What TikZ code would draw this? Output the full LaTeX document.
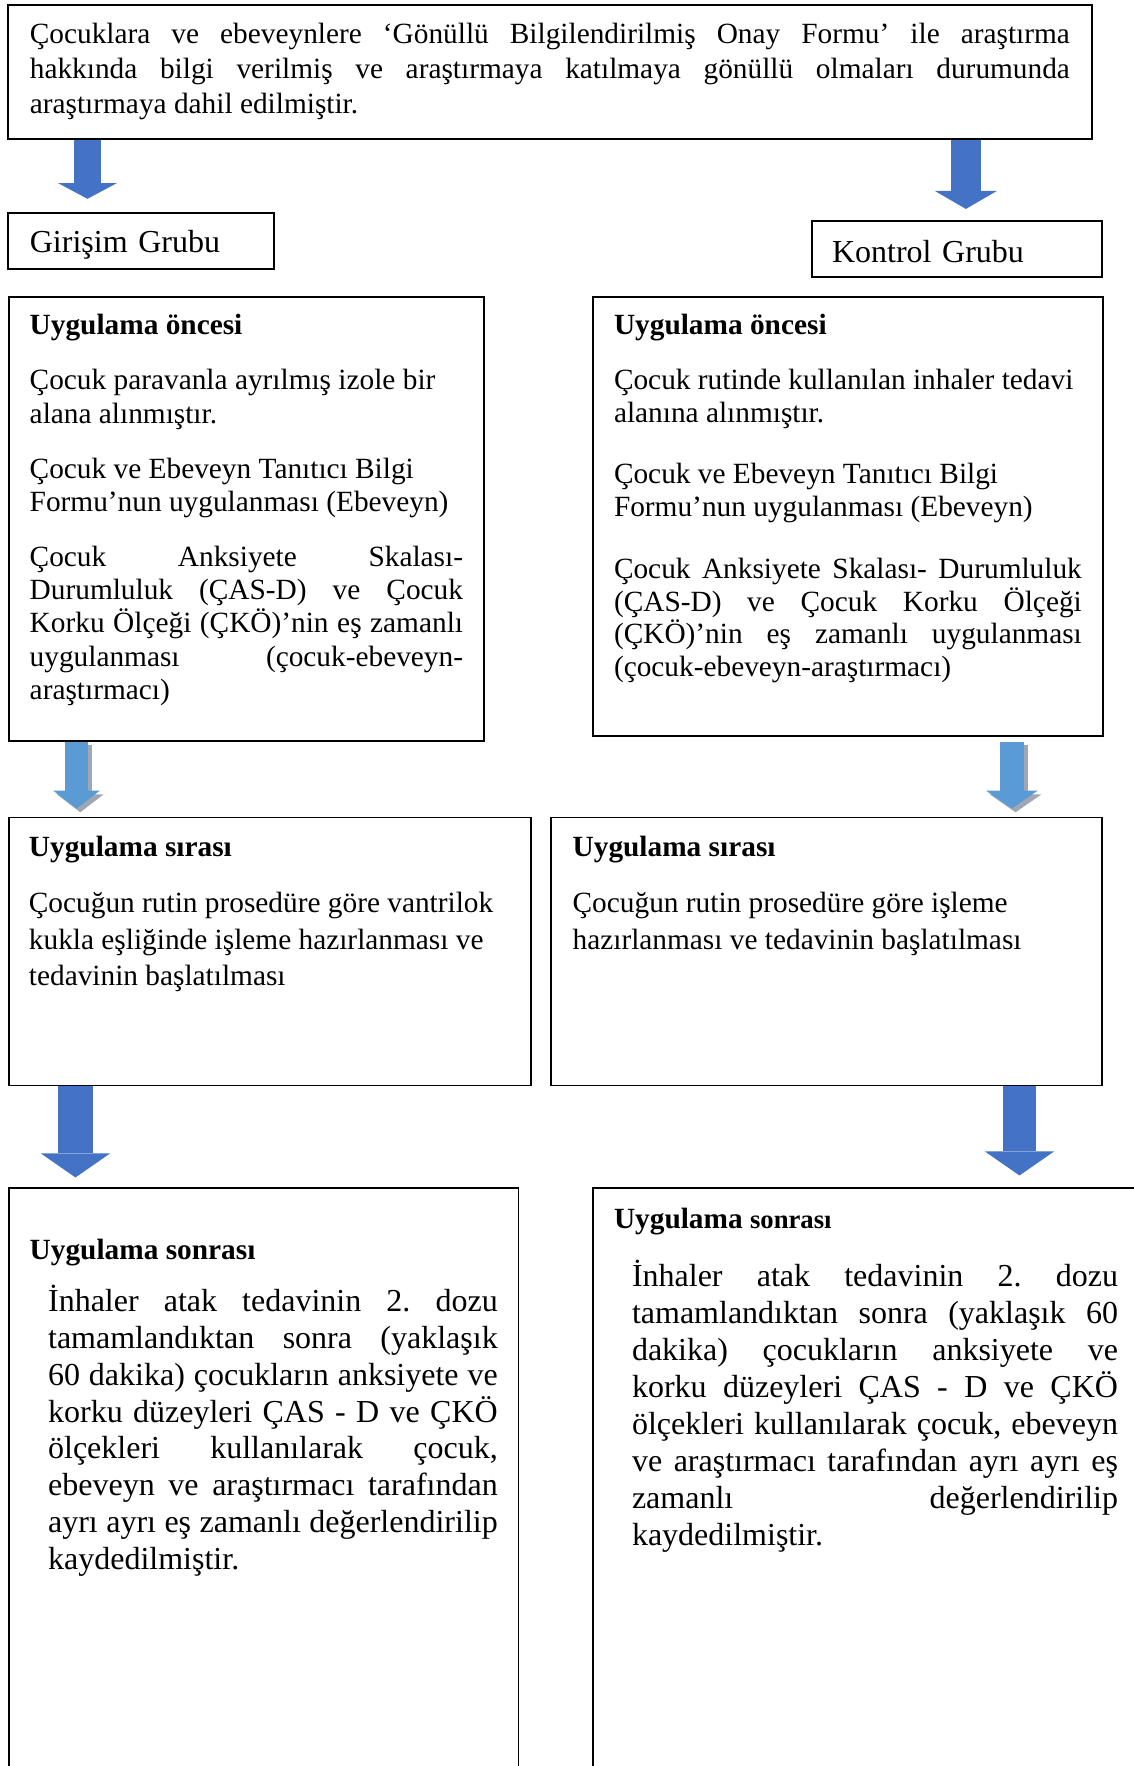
\documentclass[tikz,border=0pt]{standalone}
\usepackage{fontspec}
\setmainfont{Liberation Serif}
\usepackage{tikz}
\usetikzlibrary{arrows.meta, positioning}
\definecolor{arrblue}{RGB}{68,114,196}
\definecolor{arrlight}{RGB}{91,155,213}
\definecolor{arrshade}{RGB}{160,166,178}
\tikzset{
  box/.style={rectangle, draw=black, line width=0.7pt, inner ysep=0pt,
    inner xsep=7.8pt, align=justify},
  grpbox/.style={box, align=left, font=\fontsize{12}{14}\selectfont},
  bigarrow/.style n args={4}{draw=#1, line width=#2,
    -{Triangle[width=#3, length=#4, line width=0pt]}},
  arrshadow/.style={transform canvas={xshift=1.4pt, yshift=-1.4pt}}
}
\hyphenpenalty=10000
\exhyphenpenalty=10000
\tolerance=10000
\hbadness=10000
\frenchspacing

\begin{document}
\begin{tikzpicture}
  \useasboundingbox (0,0) rectangle (425.25pt,-662.25pt);
  \clip (0,0) rectangle (425.25pt,-662.25pt);

  % top box
  \node (intro) [box, anchor=north west, inner xsep=8.25pt, text width=390pt,
    text height=14.6pt, text depth=35.65pt, font=\fontsize{11}{13.1}\selectfont]
    at (2.6pt,-1.5pt)
    {Çocuklara ve ebeveynlere ‘Gönüllü Bilgilendirilmiş Onay Formu’ ile araştırma\linebreak
     hakkında bilgi verilmiş ve araştırmaya katılmaya gönüllü olmaları durumunda\linebreak
     araştırmaya dahil edilmiştir.};

  % groups
  \node (giris) [grpbox, below right=27pt and 0pt of intro.south west, inner xsep=8.25pt,
    text width=83.25pt, text height=15pt, text depth=6pt] {Girişim Grubu};
  \node (kontrol) [grpbox, below left=30pt and -3.8pt of intro.south east, inner xsep=7.5pt,
    text width=93.75pt, text height=15.5pt, text depth=5.5pt] {Kontrol Grubu};

  % before
  \node (gOnce) [box, below right=9.75pt and 0.4pt of giris.south west, text width=162.5pt,
    text height=14pt, text depth=152.5pt, font=\fontsize{11}{12.5}\selectfont]
    {\textbf{Uygulama öncesi}\par\vspace{8.4pt}
     Çocuk paravanla ayrılmış izole bir\\ alana alınmıştır.\par\vspace{8.1pt}
     Çocuk ve Ebeveyn Tanıtıcı Bilgi\\ Formu’nun uygulanması (Ebeveyn)\par\vspace{8.1pt}
     Çocuk Anksiyete Skalası-\linebreak Durumluluk (ÇAS-D) ve Çocuk\linebreak
     Korku Ölçeği (ÇKÖ)’nin eş zamanlı\linebreak uygulanması (çocuk-ebeveyn-\linebreak
     araştırmacı)};
  \node (kOnce) [box, below left=6.75pt and -0.35pt of kontrol.south east, inner xsep=7.9pt,
    text width=175.45pt, text height=14pt, text depth=150.6pt,
    font=\fontsize{11}{12.3}\selectfont]
    {\textbf{Uygulama öncesi}\par\vspace{8.6pt}
     Çocuk rutinde kullanılan inhaler tedavi\\ alanına alınmıştır.\par\vspace{10.7pt}
     Çocuk ve Ebeveyn Tanıtıcı Bilgi\\ Formu’nun uygulanması (Ebeveyn)\par\vspace{10.8pt}
     Çocuk Anksiyete Skalası- Durumluluk\linebreak (ÇAS-D) ve Çocuk Korku Ölçeği\linebreak
     (ÇKÖ)’nin eş zamanlı uygulanması\linebreak (çocuk-ebeveyn-araştırmacı)};

  % during
  \node (gSira) [box, below right=28.1pt and 0pt of gOnce.south west, inner xsep=7.5pt,
    text width=180.75pt, text height=14.6pt, text depth=85.9pt,
    font=\fontsize{11}{13.6}\selectfont]
    {\textbf{Uygulama sırası}\par\vspace{7.6pt}
     Çocuğun rutin prosedüre göre vantrilok\\ kukla eşliğinde işleme hazırlanması ve\\
     tedavinin başlatılması};
  \node (kSira) [box, below left=30pt and 0.35pt of kOnce.south east, inner xsep=8pt,
    text width=190.5pt, text height=14.6pt, text depth=85.9pt,
    font=\fontsize{11}{13.6}\selectfont]
    {\textbf{Uygulama sırası}\par\vspace{7.6pt}
     Çocuğun rutin prosedüre göre işleme\\ hazırlanması ve tedavinin başlatılması};

  % after
  \node (gSonra) [box, below right=37.9pt and 0pt of gSira.south west, text width=175.5pt,
    text height=26.8pt, text depth=210.7pt, font=\fontsize{11}{13}\selectfont]
    {\textbf{Uygulama sonrası}\par\vspace{5.6pt}
     {\fontsize{12}{13.8}\selectfont\leftskip=6.9pt
     İnhaler atak tedavinin 2. dozu\linebreak tamamlandıktan sonra (yaklaşık\linebreak
     60 dakika) çocukların anksiyete ve\linebreak korku düzeyleri ÇAS - D ve ÇKÖ\linebreak
     ölçekleri kullanılarak çocuk,\linebreak ebeveyn ve araştırmacı tarafından\linebreak
     ayrı ayrı eş zamanlı değerlendirilip\linebreak kaydedilmiştir.\par}};
  \node (kSonra) [box, below right=37.9pt and 15.6pt of kSira.south west, inner xsep=7.9pt,
    text width=189pt, text height=15pt, text depth=222.5pt, font=\fontsize{11}{13}\selectfont]
    {\textbf{Uygulama {\fontsize{10}{12}\selectfont sonrası}}\par\vspace{7.7pt}
     {\fontsize{12}{13.9}\selectfont\leftskip=6.75pt
     İnhaler atak tedavinin 2. dozu\linebreak tamamlandıktan sonra (yaklaşık 60\linebreak
     dakika) çocukların anksiyete ve\linebreak korku düzeyleri ÇAS - D ve ÇKÖ\linebreak
     ölçekleri kullanılarak çocuk, ebeveyn\linebreak ve araştırmacı tarafından ayrı ayrı eş\linebreak
     zamanlı değerlendirilip\linebreak kaydedilmiştir.\par}};

  % arrows
  \coordinate (gArrA) at ([xshift=30.2pt]intro.south west);
  \coordinate (kArrA) at ([xshift=-47.6pt]intro.south east);
  \coordinate (gArrB) at ([xshift=25.7pt]gOnce.south west);
  \coordinate (kArrB) at ([xshift=-34.5pt]kOnce.south east);
  \coordinate (gArrC) at ([xshift=25.3pt]gSira.south west);
  \coordinate (kArrC) at ([xshift=-31.3pt]kSira.south east);

  \draw[bigarrow={arrblue}{10.1pt}{22.1pt}{5.9pt}, shorten >=4.9pt] (gArrA) -- (gArrA |- giris.north);
  \draw[bigarrow={arrblue}{11.25pt}{23.25pt}{6.75pt}, shorten >=4.1pt] (kArrA) -- (kArrA |- kontrol.north);

  \draw[bigarrow={arrshade}{8.6pt}{17.6pt}{6.75pt}, arrshadow, shorten >=3pt] (gArrB) -- (gArrB |- gSira.north);
  \draw[bigarrow={arrlight}{8.6pt}{17.6pt}{6.75pt}, shorten >=3pt] (gArrB) -- (gArrB |- gSira.north);
  \draw[bigarrow={arrshade}{9pt}{19.5pt}{6.75pt}, arrshadow, shorten <=1.9pt, shorten >=3pt] (kArrB) -- (kArrB |- kSira.north);
  \draw[bigarrow={arrlight}{9pt}{19.5pt}{6.75pt}, shorten <=1.9pt, shorten >=3pt] (kArrB) -- (kArrB |- kSira.north);

  \draw[bigarrow={arrblue}{13.1pt}{25.9pt}{9pt}, shorten >=3.75pt] (gArrC) -- (gArrC |- gSonra.north);
  \draw[bigarrow={arrblue}{12.4pt}{25.9pt}{9pt}, shorten >=4.5pt] (kArrC) -- (kArrC |- kSonra.north);
\end{tikzpicture}
\end{document}
